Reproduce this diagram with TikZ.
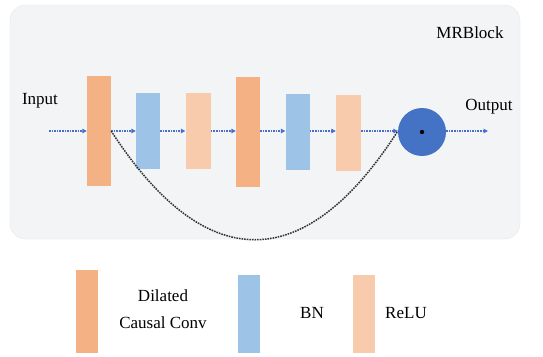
\documentclass[tikz,border=0pt]{standalone}
\usepackage{fontspec}
\setmainfont{Liberation Serif}
\usetikzlibrary{arrows.meta}
\definecolor{convc}{HTML}{F4B183}
\definecolor{bnc}{HTML}{9DC3E6}
\definecolor{reluc}{HTML}{F8CBAD}
\definecolor{addc}{HTML}{4472C4}
\definecolor{flowc}{HTML}{4A6FCB}
\definecolor{panelc}{HTML}{F2F4F6}
\definecolor{panelb}{HTML}{E4E7EA}
\begin{document}
\begin{tikzpicture}[x=1pt,y=-1pt,
  lbl/.style={font=\fontsize{17}{27}\selectfont, inner sep=0pt},
  conv/.style={fill=convc, draw=none, minimum width=24pt, minimum height=110pt, inner sep=0pt},
  bn/.style={fill=bnc, draw=none, minimum width=24pt, minimum height=76pt, inner sep=0pt},
  relu/.style={fill=reluc, draw=none, minimum width=25pt, minimum height=76pt, inner sep=0pt},
  legbar/.style={draw=none, minimum width=22pt, inner sep=0pt},
  flow/.style={flowc, dash pattern=on 1.6pt off 1pt, line width=1.5pt, -{Triangle[length=4.5pt,width=4.5pt]}},
  skip/.style={black!80, dash pattern=on 1.6pt off 1pt, line width=1.5pt},
]
\useasboundingbox (0,0) rectangle (543,356);
\fill[white] (0,0) rectangle (543,356);
\node[draw=panelb, fill=panelc, rounded corners=16pt, minimum width=510pt, minimum height=234pt, inner sep=0pt] (panel) at (265,122) {};
\node[lbl] (title) at (470,33) {MRBlock};
\node[lbl] (in) at (40,101) {Input};
\node[lbl] (out) at (489,107) {Output};
\coordinate (inS) at (49,131);
\coordinate (outE) at (488,131);
\node[conv] (o1) at (99,131) {};
\node[bn] (b1) at (148,131) {};
\node[relu] (r1) at (198,131) {};
\node[conv] (o2) at (248,132) {};
\node[bn] (b2) at (297.5,132) {};
\node[relu] (r2) at (348.5,133) {};
\node[circle, fill=addc, minimum size=48pt, inner sep=0pt] (add) at (422,132) {};
\fill[black] (add.center) circle (2.2pt);
\draw[flow] (inS) -- (o1.west |- inS);
\draw[flow] (o1.east |- inS) -- (b1.west |- inS);
\draw[flow] (b1.east |- inS) -- (r1.west |- inS);
\draw[flow] (r1.east |- inS) -- (o2.west |- inS);
\draw[flow] (o2.east |- inS) -- (b2.west |- inS);
\draw[flow] (b2.east |- inS) -- (r2.west |- inS);
\draw[flow] (r2.east |- inS) -- (add.west |- inS);
\draw[flow] (add.east |- inS) -- (outE);
\draw[skip] (o1.east |- inS) .. controls (205,276) and (305,276) .. (add.west |- inS);
% legend
\node[legbar, fill=convc, minimum height=83pt] (lc) at (86.5,311.5) {};
\node[lbl, align=center] (lct) at (163,309) {Dilated\\Causal Conv};
\node[legbar, fill=bnc, minimum height=78pt] (lb) at (249,314) {};
\node[lbl] (lbt) at (312,313) {BN};
\node[legbar, fill=reluc, minimum height=78pt] (lr) at (364,314) {};
\node[lbl] (lrt) at (406,313) {ReLU};
\end{tikzpicture}
\end{document}
